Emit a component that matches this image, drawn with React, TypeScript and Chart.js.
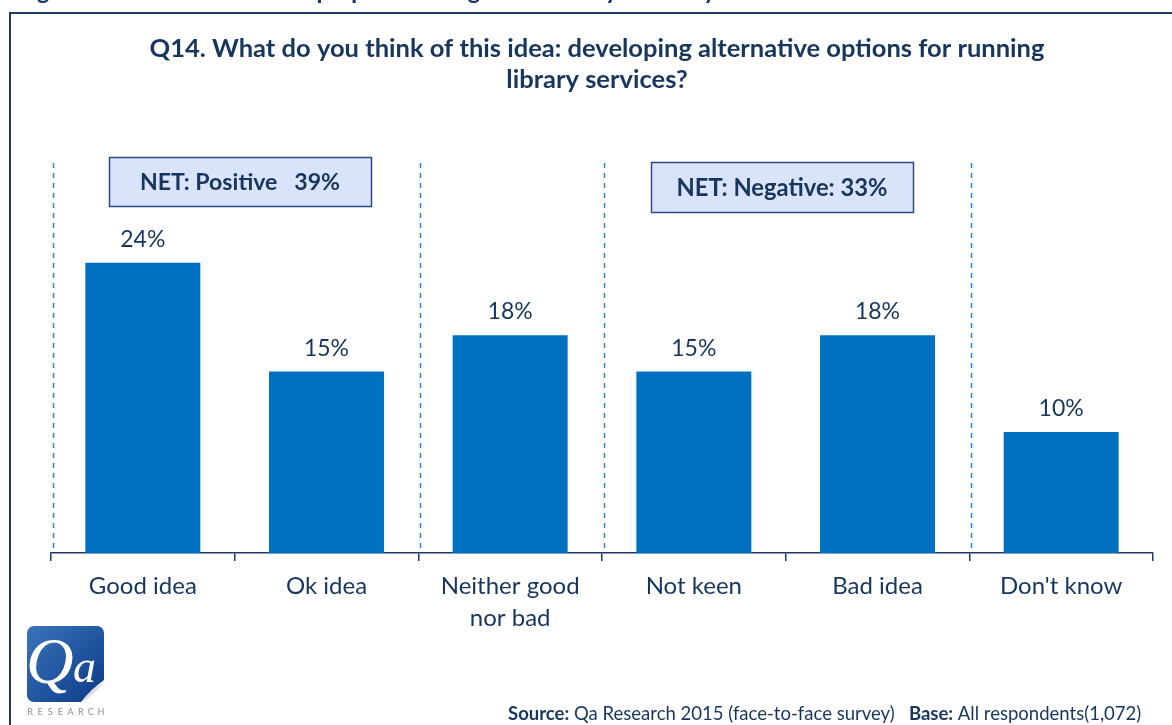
import React, { useEffect, useRef } from "react";
import { Chart, registerables } from "chart.js";

Chart.register(...registerables);

const categories: string[][] = [["Good idea"], ["Ok idea"], ["Neither good", "nor bad"], ["Not keen"], ["Bad idea"], ["Don't know"]];
const values: number[] = [24, 15, 18, 15, 18, 10];
const valueLabels: string[] = ["24%", "15%", "18%", "15%", "18%", "10%"];
const titleLines: string[] = [
  "Q14. What do you think of this idea: developing alternative options for running",
  "library services?",
];
const netLabels: string[] = ["NET: Positive   39%", "NET: Negative: 33%"];
const dividerBoundaries: number[] = [0, 2, 3, 5];
const captionText = "Figure 14: Attitudes towards proposed changes to delivery of library services";
const sourceParts: { text: string; bold: boolean }[] = [
  { text: "Source:", bold: true },
  { text: " Qa Research 2015 (face-to-face survey)   ", bold: false },
  { text: "Base:", bold: true },
  { text: " All respondents(1,072)", bold: false },
];
const logoWord = "RESEARCH";

const NAVY = "#1F3864";
const TEXT = "#17365D";
const BAR = "#0070C0";
const FONT = "Lato, 'Open Sans', sans-serif";

function fitSize(ctx: CanvasRenderingContext2D, text: string, weight: string, max: number, target: number) {
  ctx.font = `${weight} ${max}px ${FONT}`;
  const w = ctx.measureText(text).width;
  return Math.min(max, (max * target) / w);
}

export default function App() {
  const ref = useRef<HTMLCanvasElement>(null);

  useEffect(() => {
    const canvas = ref.current!;

    const overlay = {
      id: "overlay",
      beforeDraw(chart: any) {
        const ctx: CanvasRenderingContext2D = chart.ctx;
        ctx.save();
        ctx.fillStyle = "#fff";
        ctx.fillRect(0, 0, chart.width, chart.height);
        // frame
        ctx.strokeStyle = NAVY;
        ctx.lineWidth = 2;
        ctx.strokeRect(10, 13, chart.width + 40, chart.height + 40);
        // cropped caption at very top
        ctx.fillStyle = NAVY;
        ctx.font = `900 23px ${FONT}`;
        ctx.textBaseline = "alphabetic";
        ctx.textAlign = "left";
        ctx.fillText(captionText, 18, -1);
        ctx.restore();
      },
      beforeDatasetsDraw(chart: any) {
        const ctx: CanvasRenderingContext2D = chart.ctx;
        const xs = chart.scales.x;
        const { top, bottom } = chart.chartArea;
        const step = xs.width / categories.length;
        ctx.save();
        ctx.strokeStyle = "#2E86D0";
        ctx.lineWidth = 1.5;
        ctx.setLineDash([5, 5]);
        dividerBoundaries.forEach((b) => {
          const x = Math.round(xs.left + b * step) + 2.5;
          ctx.beginPath();
          ctx.moveTo(x, top - 3);
          ctx.lineTo(x, bottom);
          ctx.stroke();
        });
        ctx.restore();
      },
      afterDraw(chart: any) {
        const ctx: CanvasRenderingContext2D = chart.ctx;
        ctx.save();
        // value labels
        const meta = chart.getDatasetMeta(0);
        ctx.fillStyle = TEXT;
        ctx.font = `23px ${FONT}`;
        ctx.textAlign = "center";
        ctx.textBaseline = "alphabetic";
        meta.data.forEach((bar: any, i: number) => {
          ctx.fillText(valueLabels[i], bar.x, bar.y - 16);
        });

        // title
        ctx.fillStyle = TEXT;
        const ts = fitSize(ctx, titleLines[0], "bold", 26, 895);
        ctx.font = `bold ${ts}px ${FONT}`;
        ctx.textAlign = "center";
        ctx.fillText(titleLines[0], 597, 57);
        ctx.fillText(titleLines[1], 597, 88);

        // NET boxes
        const boxes = [
          { x: 109, y: 157, w: 262, h: 49, tw: 200 },
          { x: 651, y: 162, w: 262, h: 50, tw: 211 },
        ];
        boxes.forEach((b, i) => {
          ctx.fillStyle = "#D9E4FA";
          ctx.fillRect(b.x, b.y, b.w, b.h);
          ctx.strokeStyle = "#2F4A86";
          ctx.lineWidth = 1.5;
          ctx.strokeRect(b.x + 0.5, b.y + 0.5, b.w, b.h);
          const s = fitSize(ctx, netLabels[i], "bold", 26, b.tw);
          ctx.font = `bold ${s}px ${FONT}`;
          ctx.fillStyle = TEXT;
          ctx.textAlign = "center";
          ctx.textBaseline = "middle";
          ctx.fillText(netLabels[i], b.x + b.w / 2, b.y + b.h / 2 + 1);
        });

        // source line
        ctx.textBaseline = "alphabetic";
        ctx.textAlign = "left";
        const sz = 16;
        let total = 0;
        sourceParts.forEach((p) => {
          ctx.font = `${p.bold ? "bold " : ""}${sz}px ${FONT}`;
          total += ctx.measureText(p.text).width;
        });
        const scale = 634 / total;
        let sx = 508;
        sourceParts.forEach((p) => {
          ctx.font = `${p.bold ? "bold " : ""}${sz * scale}px ${FONT}`;
          ctx.fillStyle = TEXT;
          ctx.fillText(p.text, sx, 720);
          sx += ctx.measureText(p.text).width;
        });

        // logo
        const lx = 27, ly = 626, lw = 77, lh = 76;
        const g = ctx.createLinearGradient(lx, ly, lx + lw, ly + lh);
        g.addColorStop(0, "#3A74BC");
        g.addColorStop(1, "#0B3A86");
        ctx.fillStyle = g;
        ctx.beginPath();
        (ctx as any).roundRect(lx, ly, lw, lh, 7);
        ctx.fill();
        // page curl
        ctx.fillStyle = "#fff";
        ctx.beginPath();
        ctx.moveTo(lx + lw, ly + lh - 22);
        ctx.lineTo(lx + lw, ly + lh + 1);
        ctx.lineTo(lx + lw - 24, ly + lh + 1);
        ctx.closePath();
        ctx.fill();
        const cg = ctx.createLinearGradient(lx + lw - 22, ly + lh - 20, lx + lw, ly + lh);
        cg.addColorStop(0, "#C8CCD4");
        cg.addColorStop(1, "#F4F5F7");
        ctx.fillStyle = cg;
        ctx.beginPath();
        ctx.moveTo(lx + lw, ly + lh - 22);
        ctx.quadraticCurveTo(lx + lw - 12, ly + lh - 14, lx + lw - 24, ly + lh + 1);
        ctx.quadraticCurveTo(lx + lw - 8, ly + lh - 6, lx + lw, ly + lh - 22);
        ctx.fill();
        // Qa
        ctx.fillStyle = "#fff";
        ctx.font = "italic 66px 'Liberation Serif', serif";
        ctx.textAlign = "left";
        ctx.fillText("Q", lx - 1, ly + 57);
        ctx.font = "italic 46px 'Liberation Serif', serif";
        ctx.fillText("a", lx + 46, ly + 56);
        // RESEARCH
        ctx.fillStyle = "#8E8E8E";
        ctx.font = `9px ${FONT}`;
        ctx.textAlign = "center";
        const pitch = (lw - 6) / (logoWord.length - 1);
        for (let i = 0; i < logoWord.length; i++) {
          ctx.fillText(logoWord[i], lx + 3 + i * pitch, ly + 89);
        }
        ctx.restore();
      },
    };

    const chart = new Chart(canvas, {
      type: "bar",
      data: {
        labels: categories as any,
        datasets: [
          {
            data: values,
            backgroundColor: BAR,
            borderWidth: 0,
            categoryPercentage: 1,
            barPercentage: 0.626,
          },
        ],
      },
      options: {
        animation: false,
        responsive: true,
        maintainAspectRatio: false,
        layout: { padding: { left: 51, right: 19, top: 166, bottom: 0 } },
        plugins: { legend: { display: false }, tooltip: { enabled: false }, title: { display: false } },
        scales: {
          x: {
            offset: true,
            grid: {
              display: true,
              drawOnChartArea: false,
              drawTicks: true,
              tickLength: 8,
              color: NAVY,
              lineWidth: 1.5,
              offset: true,
            },
            border: { display: true, color: NAVY, width: 1.5 },
            ticks: {
              color: TEXT,
              font: { family: FONT, size: 24, lineHeight: 1.3 },
              padding: 10,
              maxRotation: 0,
              autoSkip: false,
            },
            afterFit(scale: any) {
              scale.height = 725 - 553;
            },
          },
          y: { display: false, min: 0, max: 32 },
        },
      },
      plugins: [overlay],
    });
    return () => chart.destroy();
  }, []);

  return (
    <div style={{ position: "absolute", left: 0, top: 0, width: 1172, height: 725, background: "#fff" }}>
      <canvas ref={ref} />
    </div>
  );
}
